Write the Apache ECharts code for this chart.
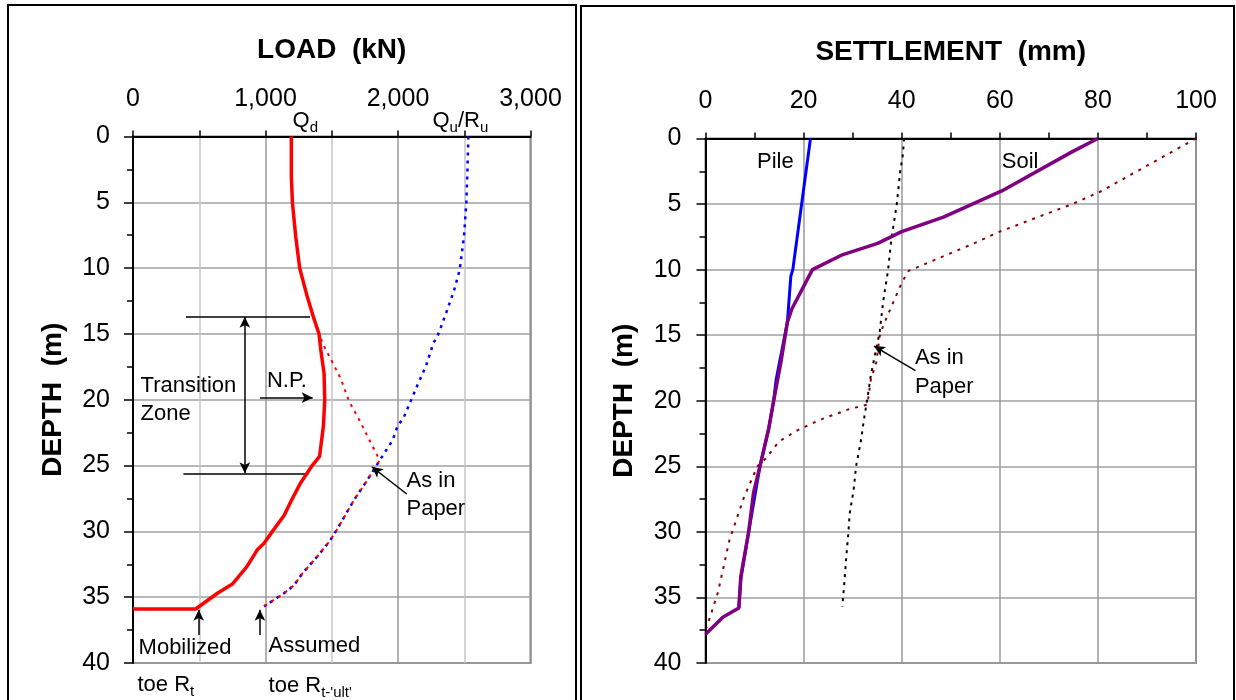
<!DOCTYPE html>
<html>
<head>
<meta charset="utf-8">
<script src="https://cdn.jsdelivr.net/npm/echarts@6/dist/echarts.min.js"></script>
<style>
html,body{margin:0;padding:0;background:#fff;}
#chart{width:1236px;height:700px;}
</style>
</head>
<body>
<div id="chart"></div>
<script>
// ---------- DATA ----------
// Left chart: LOAD (kN) vs DEPTH (m)
const qdDepth = [0, 3, 5, 7.6, 10, 12.2, 13.7, 15, 16.2, 18, 20, 22, 24.3, 25, 26.3, 27.6, 28.8, 30, 30.9, 31.4, 32.7, 34, 34.7, 35.9, 35.9];
const qdLoad  = [1195, 1195, 1203, 1228, 1258, 1316, 1361, 1404, 1417, 1442, 1447, 1437, 1408, 1352, 1266, 1198, 1140, 1052, 989, 938, 858, 750, 637, 473, 0];

const quDepth = [0, 2.6, 5, 7.6, 10.1, 11.7, 13.5, 15, 15.7, 17.5, 18.9, 20.1, 21.3, 22.05, 23.1, 23.9, 24.6, 26.1, 27.6, 29.9, 30.7, 31.9, 33.2, 34.1, 34.7, 35.7];
const quLoad  = [2531, 2524, 2516, 2498, 2466, 2423, 2360, 2305, 2267, 2209, 2146, 2096, 2045, 1995, 1958, 1907, 1862, 1769, 1669, 1537, 1487, 1392, 1278, 1215, 1140, 989];

const paperLoadDepth = [14.5, 15.7, 16.9, 18.4, 20.1, 21.5, 23, 24.6, 26.1, 27.6, 29.9, 30.7, 31.9, 33.2, 34.1, 34.7, 35.7];
const paperLoad      = [1390, 1430, 1492, 1568, 1630, 1706, 1781, 1862, 1769, 1669, 1537, 1487, 1392, 1278, 1215, 1140, 989];

const loadTicks = [0, 1000, 2000, 3000];

// Right chart: SETTLEMENT (mm) vs DEPTH (m)
const pileDepth  = [0, 5, 10, 10.5, 14, 18.4, 20, 22.1, 25, 30, 33.6, 35.8];
const pileSettle = [21.4, 19.6, 17.8, 17.4, 16.7, 14.4, 13.9, 12.9, 11.1, 8.8, 7.2, 6.8];

const soilDepth  = [0, 1, 4, 6, 7.1, 8, 8.9, 10, 13, 14, 17, 20, 22.1, 25, 27, 30, 33.4, 35.8, 36.5, 37.8];
const soilSettle = [80, 74.8, 60.4, 48.5, 40, 35.1, 27.7, 21.8, 17.6, 16.7, 15.4, 13.9, 12.9, 11.1, 9.8, 8.8, 7.2, 6.8, 3.6, 0];

const paperSoilDepth  = [0, 3.2, 4, 5, 7.1, 8.1, 10.1, 11, 14.3, 15.1, 17.1, 18.4, 20.3, 20.6, 21.4, 22.2, 23.1, 24.4, 25, 27.3, 30.6, 34.6, 36.4, 37.3];
const paperSoilSettle = [100, 84.6, 80.8, 74.8, 60, 54.1, 41.4, 40, 36.2, 35.5, 34.8, 33.7, 33.0, 29.6, 23.7, 19.0, 15.0, 12.3, 10.6, 7.9, 4.9, 2.55, 1.0, 0.2];

const paperPileDepth  = [0, 1.35, 2.5, 5, 6.7, 8, 10.1, 12.5, 14.8, 16.4, 18.1, 20.3, 21.2, 23, 25, 26.8, 28.6, 30.2, 31.9, 33.9, 35.7];
const paperPileSettle = [40.5, 40.2, 39.7, 39.0, 38.3, 37.8, 37.2, 36.2, 35.5, 34.6, 33.7, 32.8, 32.4, 31.7, 30.7, 30.2, 29.4, 29.1, 28.7, 28.3, 27.9];

const depthTicks = [0, 5, 10, 15, 20, 25, 30, 35, 40];

// ---------- CHART ----------
const FONT = '"Liberation Sans", Arial, sans-serif';
const pairs = (xs, ys) => xs.map((x, i) => [x, ys[i]]);
const fmtThousands = v => String(v).replace(/\B(?=(\d{3})+(?!\d))/g, ',');

const chart = echarts.init(document.getElementById('chart'), null, {renderer: 'canvas'});

function xAxisCfg(grid, min, max, interval, name, fmt, minorGrid) {
  return {
    gridIndex: grid, type: 'value', position: 'top', min, max, interval,
    name, nameLocation: 'middle', nameGap: 72,
    nameTextStyle: {fontSize: 28, fontWeight: 'bold', color: '#000', fontFamily: FONT},
    axisLine: {show: true, onZero: false, lineStyle: {color: '#000', width: 2}},
    axisTick: {show: true, length: 6, lineStyle: {color: '#000', width: 1.5}},
    minorTick: {show: true, splitNumber: 2, length: 6, lineStyle: {color: '#000', width: 1.5}},
    axisLabel: {fontSize: 25, color: '#000', fontFamily: FONT, margin: 25, formatter: fmt},
    splitLine: {show: true, lineStyle: {color: '#9a9a9a', width: 1.5}},
    minorSplitLine: {show: minorGrid, lineStyle: {color: '#c6c6c6', width: 1.5}}
  };
}
function yAxisCfg(grid, gap, margin) {
  return {
    gridIndex: grid, type: 'value', inverse: true, min: depthTicks[0], max: depthTicks[depthTicks.length - 1], interval: 5,
    name: 'DEPTH  (m)', nameLocation: 'middle', nameGap: gap, nameRotate: 90,
    nameTextStyle: {fontSize: 28, fontWeight: 'bold', color: '#000', fontFamily: FONT},
    axisLine: {show: true, onZero: false, lineStyle: {color: '#000', width: 2}},
    axisTick: {show: true, length: 9, lineStyle: {color: '#000', width: 1.5}},
    minorTick: {show: true, splitNumber: 2, length: 6, lineStyle: {color: '#000', width: 1.5}},
    axisLabel: {fontSize: 25, color: '#000', fontFamily: FONT, margin},
    splitLine: {show: true, lineStyle: {color: '#a0a0a0', width: 1.5}}
  };
}

const annotLine = {color: '#000', width: 1.5, type: 'solid'};
function ml(x1, y1, x2, y2, s1, s2) {
  return [{coord: [x1, y1], symbol: s1}, {coord: [x2, y2], symbol: s2}];
}

const option = {
  animation: false,
  backgroundColor: '#fff',
  grid: [
    {left: 133, top: 136.5, width: 397.5, height: 526.5, show: true, borderColor: '#808080', borderWidth: 2, backgroundColor: 'transparent'},
    {left: 705.5, top: 138.5, width: 490.5, height: 524.5, show: true, borderColor: '#808080', borderWidth: 2, backgroundColor: 'transparent'}
  ],
  xAxis: [
    xAxisCfg(0, loadTicks[0], loadTicks[loadTicks.length - 1], 1000, 'LOAD  (kN)', fmtThousands, true),
    xAxisCfg(1, 0, 100, 20, 'SETTLEMENT  (mm)', v => String(v), false)
  ],
  yAxis: [yAxisCfg(0, 66, 23), yAxisCfg(1, 67, 24)],
  series: [
    {type: 'line', xAxisIndex: 0, yAxisIndex: 0, data: pairs(quLoad, quDepth), showSymbol: false, symbol: 'none',
     lineStyle: {color: '#0000ff', width: 2.5, type: [3, 5]}, z: 3},
    {type: 'line', xAxisIndex: 0, yAxisIndex: 0, data: pairs(paperLoad, paperLoadDepth), showSymbol: false, symbol: 'none',
     lineStyle: {color: '#ff0000', width: 2, type: [3, 5], dashOffset: 4}, z: 4},
    {type: 'line', xAxisIndex: 0, yAxisIndex: 0, data: pairs(qdLoad, qdDepth), showSymbol: false, symbol: 'none',
     lineStyle: {color: '#ff0000', width: 3.5}, z: 5,
     markLine: {silent: true, animation: false, symbolSize: [8, 11], label: {show: false}, lineStyle: annotLine,
       emphasis: {disabled: true},
       data: [
         ml(400, 13.69, 1336, 13.69, 'none', 'none'),
         ml(380, 25.59, 1323, 25.59, 'none', 'none'),
         ml(844, 13.69, 844, 25.59, 'arrow', 'arrow'),
         ml(958, 19.84, 1356, 19.84, 'none', 'arrow'),
         ml(2066, 27.16, 1802, 25.09, 'none', 'arrow'),
         ml(496, 37.87, 496, 35.95, 'none', 'arrow'),
         ml(958, 37.87, 958, 35.95, 'none', 'arrow')
       ]}},
    {type: 'line', xAxisIndex: 1, yAxisIndex: 1, data: pairs(paperPileSettle, paperPileDepth), showSymbol: false, symbol: 'none',
     lineStyle: {color: '#000', width: 2, type: [3, 5]}, z: 3},
    {type: 'line', xAxisIndex: 1, yAxisIndex: 1, data: pairs(paperSoilSettle, paperSoilDepth), showSymbol: false, symbol: 'none',
     lineStyle: {color: '#8b0000', width: 2, type: [3, 6]}, z: 3},
    {type: 'line', xAxisIndex: 1, yAxisIndex: 1, data: pairs(pileSettle, pileDepth), showSymbol: false, symbol: 'none',
     lineStyle: {color: '#0000ff', width: 3}, z: 4},
    {type: 'line', xAxisIndex: 1, yAxisIndex: 1, data: pairs(soilSettle, soilDepth), showSymbol: false, symbol: 'none',
     lineStyle: {color: '#800080', width: 3.5}, z: 5,
     markLine: {silent: true, animation: false, symbolSize: [8, 11], label: {show: false}, lineStyle: annotLine,
       emphasis: {disabled: true},
       data: [ml(42.8, 17.7, 34.35, 15.83, 'none', 'arrow')]}}
  ]
};
chart.setOption(option);

// ---------- TEXT ANNOTATIONS (anchored in data coordinates) ----------
const rich = {
  m: {fontSize: 22, lineHeight: 24, fontFamily: FONT, fill: '#000'},
  s: {fontSize: 15, lineHeight: 15, fontFamily: FONT, fill: '#000', padding: [14, 0, 0, 0]}
};
const notes = [
  {g: 0, at: [1204, -1.18], text: '{m|Q}{s|d}'},
  {g: 0, at: [2260, -1.18], text: '{m|Q}{s|u}{m|/R}{s|u}'},
  {g: 0, at: [57, 18.96], text: 'Transition'},
  {g: 0, at: [57, 21.09], text: 'Zone'},
  {g: 0, at: [1011, 18.58], text: 'N.P.'},
  {g: 0, at: [2064, 26.18], text: 'As in'},
  {g: 0, at: [2064, 28.3], text: 'Paper'},
  {g: 0, at: [42, 38.87], text: 'Mobilized'},
  {g: 0, at: [34, 41.68], text: "{m|toe R}{s|t}"},
  {g: 0, at: [1023, 38.72], text: 'Assumed'},
  {g: 0, at: [1023, 41.75], text: "{m|toe R}{s|t-'ult'}"},
  {g: 1, at: [10.5, 1.8], text: 'Pile'},
  {g: 1, at: [60.4, 1.8], text: 'Soil'},
  {g: 1, at: [42.7, 16.7], text: 'As in'},
  {g: 1, at: [42.7, 18.95], text: 'Paper'}
];
const graphics = notes.map(n => {
  const p = chart.convertToPixel({gridIndex: n.g}, n.at);
  return {
    type: 'text', x: p[0], y: p[1], z: 100, silent: true,
    style: {text: n.text, rich, fontSize: 22, fontFamily: FONT, fill: '#000', align: 'left', verticalAlign: 'middle'}
  };
});
// panel frames
graphics.push(
  {type: 'rect', z: 100, silent: true, shape: {x: 8, y: 5, width: 568, height: 720}, style: {fill: 'none', stroke: '#000', lineWidth: 2}},
  {type: 'rect', z: 100, silent: true, shape: {x: 581, y: 6, width: 653, height: 720}, style: {fill: 'none', stroke: '#000', lineWidth: 2}}
);
chart.setOption({graphic: graphics});
</script>
</body>
</html>
